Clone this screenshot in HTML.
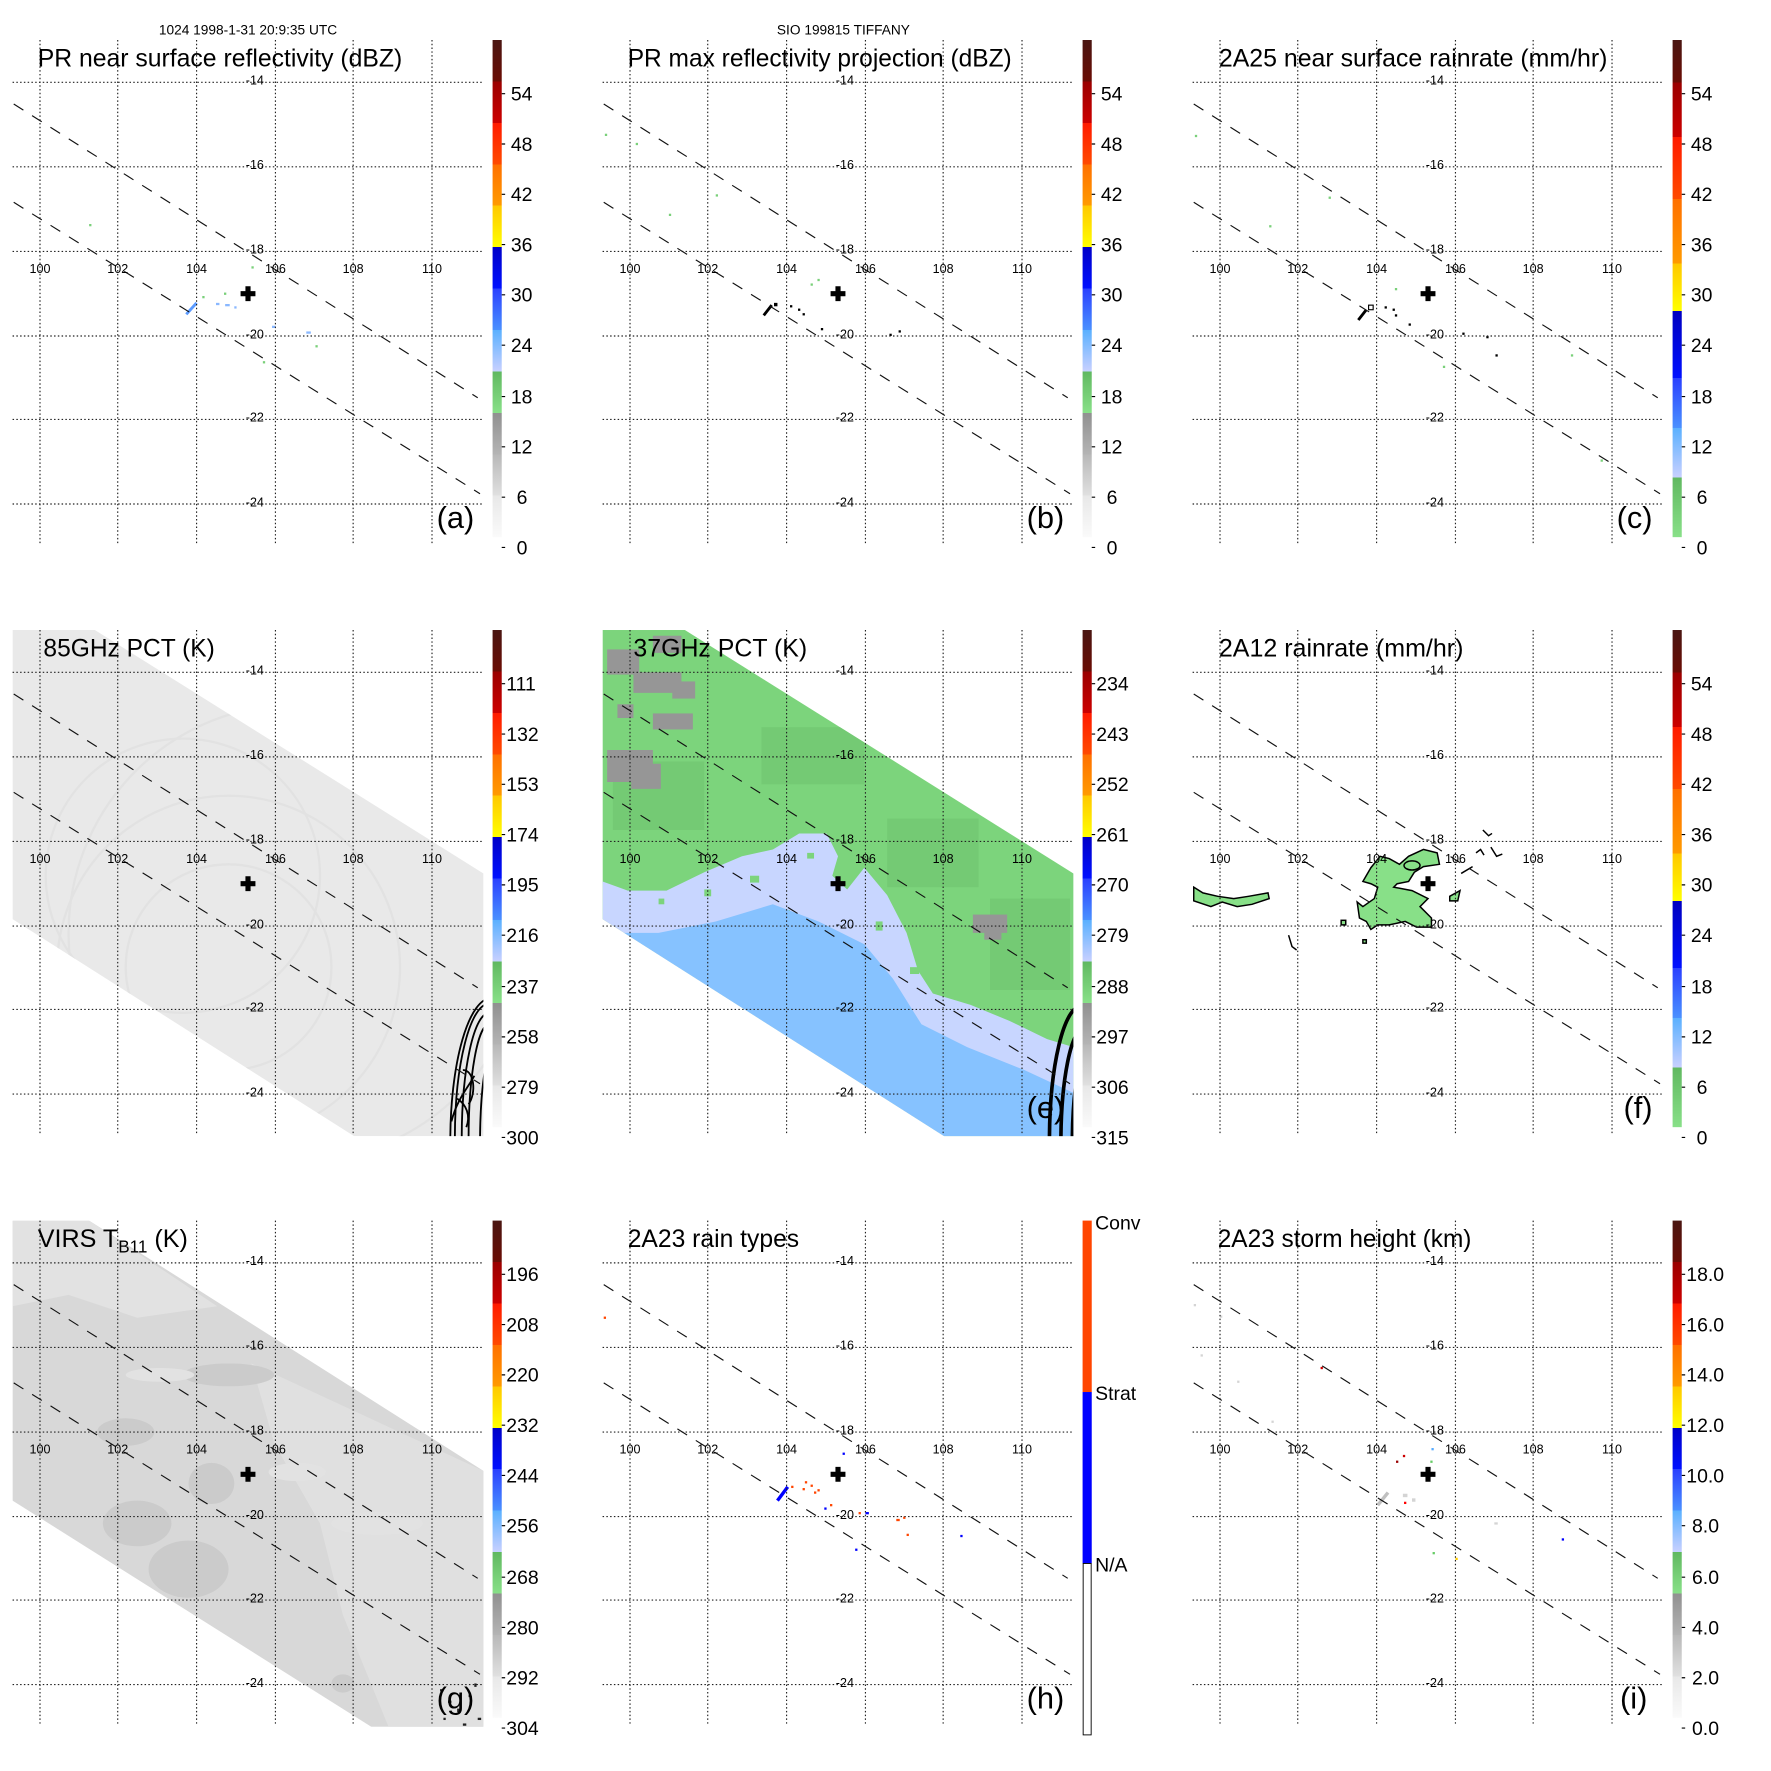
<!DOCTYPE html>
<html><head><meta charset="utf-8"><style>html,body{margin:0;padding:0;background:#fff}svg{display:block}text{font-family:"Liberation Sans",Arial,sans-serif;fill:#000}</style></head><body>
<svg width="1771" height="1771" viewBox="0 0 1549.6 1549.6" xmlns="http://www.w3.org/2000/svg">
<defs>
<linearGradient id="std" x1="0" y1="0" x2="0" y2="1">
<stop offset="0" stop-color="#4a1612"/><stop offset="0.0833" stop-color="#6a0c04"/>
<stop offset="0.0833" stop-color="#9a0000"/><stop offset="0.1667" stop-color="#cc0000"/>
<stop offset="0.1667" stop-color="#ff1a00"/><stop offset="0.25" stop-color="#ff4a00"/>
<stop offset="0.25" stop-color="#ff7000"/><stop offset="0.3333" stop-color="#ff9a00"/>
<stop offset="0.3333" stop-color="#ffc800"/><stop offset="0.4167" stop-color="#ffff00"/>
<stop offset="0.4167" stop-color="#0000c8"/><stop offset="0.5" stop-color="#0010ff"/>
<stop offset="0.5" stop-color="#2a40ff"/><stop offset="0.5833" stop-color="#4a90ff"/>
<stop offset="0.5833" stop-color="#5ab0ff"/><stop offset="0.6667" stop-color="#c8d0ff"/>
<stop offset="0.6667" stop-color="#60b860"/><stop offset="0.75" stop-color="#88e088"/>
<stop offset="0.75" stop-color="#909090"/><stop offset="0.8333" stop-color="#b4b4b4"/>
<stop offset="0.8333" stop-color="#b8b8b8"/><stop offset="0.9167" stop-color="#e0e0e0"/>
<stop offset="0.9167" stop-color="#e8e8e8"/><stop offset="1" stop-color="#fafafa"/>
</linearGradient>
<linearGradient id="rain" x1="0" y1="0" x2="0" y2="1">
<stop offset="0" stop-color="#4a1612"/><stop offset="0.085" stop-color="#6a0c04"/>
<stop offset="0.085" stop-color="#9a0000"/><stop offset="0.195" stop-color="#cc0000"/>
<stop offset="0.195" stop-color="#ff1a00"/><stop offset="0.32" stop-color="#ff4a00"/>
<stop offset="0.32" stop-color="#ff7000"/><stop offset="0.45" stop-color="#ff9a00"/>
<stop offset="0.45" stop-color="#ffc800"/><stop offset="0.545" stop-color="#ffff00"/>
<stop offset="0.545" stop-color="#0000c0"/><stop offset="0.68" stop-color="#0010ff"/>
<stop offset="0.68" stop-color="#2a40ff"/><stop offset="0.78" stop-color="#4a90ff"/>
<stop offset="0.78" stop-color="#5ab0ff"/><stop offset="0.88" stop-color="#c8d0ff"/>
<stop offset="0.88" stop-color="#60b860"/><stop offset="1" stop-color="#88e088"/>
</linearGradient>
<clipPath id="plot"><rect x="11" y="35" width="412" height="443"/></clipPath>
<clipPath id="swath"><polygon points="11,35 83,35 423,248 423,478 310,478 11,288"/></clipPath>
<clipPath id="swathg"><polygon points="11,35 78,35 423,254 423,478 325,478 11,280"/></clipPath>
<g id="grid" fill="none">
<g stroke="#222" stroke-width="1" stroke-dasharray="1.3,2">
<path d="M11 72H423M11 146H423M11 220H423M11 294H423M11 367H423M11 441H423"/>
<path d="M35 35V477M103 35V477M172 35V477M241 35V477M309 35V477M378 35V477"/>
</g>
<path d="M12 91L418 348M12 177L420 432" stroke="#111" stroke-width="1" stroke-dasharray="10,9"/>
<path d="M217 250.5v13M210.5 257h13" stroke="#000" stroke-width="4.5"/>
</g>
<g id="cbt" stroke="#000" stroke-width="1">
<path d="M439 82h3M439 126h3M439 170h3M439 214h3M439 258h3M439 302h3M439 347h3M439 391h3M439 435h3M439 479h3"/>
</g>
</defs>

<text x="217" y="30" font-size="12" text-anchor="middle">1024 1998-1-31 20:9:35 UTC</text>
<text x="738" y="30" font-size="12" text-anchor="middle">SIO 199815 TIFFANY</text>

<!-- Panel a -->
<g transform="translate(0,0)">
<g clip-path="url(#plot)">
<path d="M163 275L172 265" stroke="#5a9aff" stroke-width="2.5"/>
<g fill="#8ab8ff"><rect x="189" y="265" width="3" height="2"/><rect x="197" y="266" width="4" height="2"/><rect x="205" y="268" width="2" height="2"/><rect x="268" y="290" width="4" height="2"/><rect x="238" y="285" width="3" height="2"/></g>
<g fill="#7ad07a"><rect x="78" y="196" width="2" height="2"/><rect x="220" y="233" width="2" height="2"/><rect x="177" y="259" width="2" height="2"/><rect x="196" y="256" width="2" height="2"/><rect x="276" y="302" width="2" height="2"/><rect x="230" y="316" width="2" height="2"/></g>
</g>
<use href="#grid"/>
<g font-size="11" text-anchor="middle"><text x="223" y="74">-14</text><text x="223" y="148">-16</text><text x="223" y="222">-18</text><text x="223" y="296">-20</text><text x="223" y="369">-22</text><text x="223" y="443">-24</text><text x="35" y="239">100</text><text x="103" y="239">102</text><text x="172" y="239">104</text><text x="241" y="239">106</text><text x="309" y="239">108</text><text x="378" y="239">110</text></g>
<text x="33" y="58" font-size="22" textLength="319" lengthAdjust="spacingAndGlyphs">PR near surface reflectivity (dBZ)</text>
<text x="382" y="462" font-size="27">(a)</text>
<rect x="431" y="35" width="8" height="435" fill="url(#std)"/><use href="#cbt"/>
<g font-size="17"><text x="447" y="88">54</text><text x="447" y="132">48</text><text x="447" y="176">42</text><text x="447" y="220">36</text><text x="447" y="264">30</text><text x="447" y="308">24</text><text x="447" y="353">18</text><text x="447" y="397">12</text><text x="452" y="441">6</text><text x="452" y="485">0</text></g>
</g>

<!-- Panel b -->
<g transform="translate(516.25,0)">
<g clip-path="url(#plot)">
<path d="M152 276L159 267" stroke="#000" stroke-width="2.5"/>
<g fill="#000"><rect x="175" y="267" width="2" height="2"/><rect x="182" y="270" width="2" height="2"/><rect x="186" y="274" width="2" height="2"/><rect x="161" y="265" width="3" height="3"/><rect x="202" y="287" width="2" height="2"/><rect x="262" y="292" width="2" height="2"/><rect x="270" y="289" width="2" height="2"/></g>
<g fill="#7ad07a"><rect x="13" y="117" width="2" height="2"/><rect x="40" y="125" width="2" height="2"/><rect x="69" y="187" width="2" height="2"/><rect x="110" y="170" width="2" height="2"/><rect x="193" y="248" width="2" height="2"/><rect x="199" y="244" width="2" height="2"/></g>
</g>
<use href="#grid"/>
<g font-size="11" text-anchor="middle"><text x="223" y="74">-14</text><text x="223" y="148">-16</text><text x="223" y="222">-18</text><text x="223" y="296">-20</text><text x="223" y="369">-22</text><text x="223" y="443">-24</text><text x="35" y="239">100</text><text x="103" y="239">102</text><text x="172" y="239">104</text><text x="241" y="239">106</text><text x="309" y="239">108</text><text x="378" y="239">110</text></g>
<text x="33" y="58" font-size="22" textLength="336" lengthAdjust="spacingAndGlyphs">PR max reflectivity projection (dBZ)</text>
<text x="382" y="462" font-size="27">(b)</text>
<rect x="431" y="35" width="8" height="435" fill="url(#std)"/><use href="#cbt"/>
<g font-size="17"><text x="447" y="88">54</text><text x="447" y="132">48</text><text x="447" y="176">42</text><text x="447" y="220">36</text><text x="447" y="264">30</text><text x="447" y="308">24</text><text x="447" y="353">18</text><text x="447" y="397">12</text><text x="452" y="441">6</text><text x="452" y="485">0</text></g>
</g>

<!-- Panel c -->
<g transform="translate(1032.5,0)">
<g clip-path="url(#plot)">
<path d="M156 280L163 271" stroke="#000" stroke-width="2.5"/>
<rect x="165" y="267" width="4" height="4" fill="none" stroke="#000" stroke-width="1"/>
<g fill="#000"><rect x="179" y="268" width="2" height="2"/><rect x="186" y="270" width="2" height="2"/><rect x="188" y="275" width="2" height="2"/><rect x="200" y="283" width="2" height="2"/><rect x="247" y="291" width="2" height="2"/><rect x="268" y="294" width="2" height="2"/><rect x="276" y="310" width="2" height="2"/></g>
<g fill="#7ad07a"><rect x="13" y="118" width="2" height="2"/><rect x="78" y="197" width="2" height="2"/><rect x="130" y="172" width="2" height="2"/><rect x="188" y="252" width="2" height="2"/><rect x="230" y="320" width="2" height="2"/><rect x="342" y="310" width="2" height="2"/><rect x="368" y="402" width="2" height="2"/></g>
</g>
<use href="#grid"/>
<g font-size="11" text-anchor="middle"><text x="223" y="74">-14</text><text x="223" y="148">-16</text><text x="223" y="222">-18</text><text x="223" y="296">-20</text><text x="223" y="369">-22</text><text x="223" y="443">-24</text><text x="35" y="239">100</text><text x="103" y="239">102</text><text x="172" y="239">104</text><text x="241" y="239">106</text><text x="309" y="239">108</text><text x="378" y="239">110</text></g>
<text x="34" y="58" font-size="22" textLength="340" lengthAdjust="spacingAndGlyphs">2A25 near surface rainrate (mm/hr)</text>
<text x="382" y="462" font-size="27">(c)</text>
<rect x="431" y="35" width="8" height="435" fill="url(#rain)"/><use href="#cbt"/>
<g font-size="17"><text x="447" y="88">54</text><text x="447" y="132">48</text><text x="447" y="176">42</text><text x="447" y="220">36</text><text x="447" y="264">30</text><text x="447" y="308">24</text><text x="447" y="353">18</text><text x="447" y="397">12</text><text x="452" y="441">6</text><text x="452" y="485">0</text></g>
</g>

<!-- Panel d -->
<g transform="translate(0,516.25)">
<g clip-path="url(#swath)">
<rect x="11" y="35" width="412" height="443" fill="#e9e9e9"/>
<g fill="none" stroke="#e2e2e2" stroke-width="2"><circle cx="200" cy="330" r="90"/><circle cx="200" cy="330" r="150"/><circle cx="260" cy="300" r="200"/><circle cx="160" cy="250" r="120"/></g>
<g fill="none" stroke="#000" stroke-width="1.6">
<ellipse cx="428" cy="480" rx="18" ry="100"/><ellipse cx="428" cy="480" rx="24" ry="110"/><ellipse cx="428" cy="480" rx="30" ry="118"/><ellipse cx="430" cy="482" rx="36" ry="125"/><ellipse cx="432" cy="485" rx="12" ry="85"/>
<path d="M395 465c5-20 15-30 20-40M400 445c8 5 12 15 8 25M405 420c10 0 12 20 5 30"/>
</g>
</g>
<use href="#grid"/>
<g font-size="11" text-anchor="middle"><text x="223" y="74">-14</text><text x="223" y="148">-16</text><text x="223" y="222">-18</text><text x="223" y="296">-20</text><text x="223" y="369">-22</text><text x="223" y="443">-24</text><text x="35" y="239">100</text><text x="103" y="239">102</text><text x="172" y="239">104</text><text x="241" y="239">106</text><text x="309" y="239">108</text><text x="378" y="239">110</text></g>
<text x="38" y="58" font-size="22" textLength="150" lengthAdjust="spacingAndGlyphs">85GHz PCT (K)</text>
<rect x="431" y="35" width="8" height="435" fill="url(#std)"/><use href="#cbt"/>
<g font-size="17"><text x="443" y="88">111</text><text x="443" y="132">132</text><text x="443" y="176">153</text><text x="443" y="220">174</text><text x="443" y="264">195</text><text x="443" y="308">216</text><text x="443" y="353">237</text><text x="443" y="397">258</text><text x="443" y="441">279</text><text x="443" y="485">300</text></g>
</g>

<!-- Panel e -->
<g transform="translate(516.25,516.25)">
<g clip-path="url(#swath)">
<rect x="11" y="35" width="412" height="443" fill="#7cd47c"/>
<g fill="#74ca74"><rect x="20" y="150" width="80" height="60"/><rect x="150" y="120" width="90" height="50"/><rect x="260" y="200" width="80" height="60"/><rect x="350" y="270" width="70" height="80"/></g>
<g fill="#969696"><rect x="15" y="52" width="28" height="22"/><rect x="38" y="72" width="42" height="18"/><rect x="55" y="40" width="25" height="15"/><rect x="15" y="140" width="40" height="28"/><rect x="36" y="152" width="26" height="22"/><rect x="55" y="108" width="35" height="14"/><rect x="72" y="80" width="20" height="15"/><rect x="24" y="100" width="14" height="12"/><rect x="335" y="284" width="30" height="16"/><rect x="345" y="292" width="15" height="14"/></g>
<polygon points="11,255 33,263 67,263 100,247 133,233 160,227 183,213 207,213 217,233 212,250 225,262 240,243 260,267 277,300 287,333 300,353 333,363 367,377 400,393 423,400 423,478 11,478" fill="#c8d6ff"/>
<g fill="#7cd47c"><rect x="100" y="262" width="6" height="6"/><rect x="140" y="250" width="8" height="6"/><rect x="190" y="230" width="6" height="5"/><rect x="250" y="290" width="6" height="8"/><rect x="280" y="330" width="8" height="6"/><rect x="60" y="270" width="5" height="5"/><rect x="170" y="280" width="5" height="5"/></g>
<polygon points="11,300 60,300 110,290 160,275 200,290 240,310 265,340 290,380 330,400 380,420 423,440 423,478 11,478" fill="#86c2ff"/>
<g fill="none" stroke="#000" stroke-width="3.2"><ellipse cx="430" cy="482" rx="28" ry="118"/><ellipse cx="432" cy="484" rx="20" ry="100"/><ellipse cx="434" cy="486" rx="12" ry="80"/></g>
</g>
<use href="#grid"/>
<g font-size="11" text-anchor="middle"><text x="223" y="74">-14</text><text x="223" y="148">-16</text><text x="223" y="222">-18</text><text x="223" y="296">-20</text><text x="223" y="369">-22</text><text x="223" y="443">-24</text><text x="35" y="239">100</text><text x="103" y="239">102</text><text x="172" y="239">104</text><text x="241" y="239">106</text><text x="309" y="239">108</text><text x="378" y="239">110</text></g>
<text x="38" y="58" font-size="22" textLength="152" lengthAdjust="spacingAndGlyphs">37GHz PCT (K)</text>
<text x="382" y="462" font-size="27">(e)</text>
<rect x="431" y="35" width="8" height="435" fill="url(#std)"/><use href="#cbt"/>
<g font-size="17"><text x="443" y="88">234</text><text x="443" y="132">243</text><text x="443" y="176">252</text><text x="443" y="220">261</text><text x="443" y="264">270</text><text x="443" y="308">279</text><text x="443" y="353">288</text><text x="443" y="397">297</text><text x="443" y="441">306</text><text x="443" y="485">315</text></g>
</g>

<!-- Panel f -->
<g transform="translate(1032.5,516.25)">
<g clip-path="url(#plot)" stroke="#000" stroke-width="1.3" fill="#88e088">
<polygon points="160,255 167,243 175,233 183,235 192,240 200,233 213,227 225,230 227,240 213,242 205,247 200,255 190,257 187,260 203,263 217,270 210,277 220,287 220,295 207,295 197,290 183,293 173,293 167,297 163,290 157,287 155,273 160,277 170,270 173,260 167,257"/>
<ellipse cx="203" cy="241" rx="7" ry="4" fill="#88e088"/>
<polygon points="12,260 20,265 33,268 47,270 60,268 77,265 78,270 63,275 50,277 37,273 27,277 12,272"/>
<polygon points="236,268 245,263 243,272 236,272"/>
<path d="M246 248L256 242M259 230l4-3 3 5M265 210l5 5 3-2M272 225l5 8 5-2" fill="none"/>
<rect x="141" y="289" width="4" height="4"/><rect x="160" y="306" width="3" height="3"/>
<path d="M95 302l3 10 4 3" fill="none"/>
</g>
<use href="#grid"/>
<g font-size="11" text-anchor="middle"><text x="223" y="74">-14</text><text x="223" y="148">-16</text><text x="223" y="222">-18</text><text x="223" y="296">-20</text><text x="223" y="369">-22</text><text x="223" y="443">-24</text><text x="35" y="239">100</text><text x="103" y="239">102</text><text x="172" y="239">104</text><text x="241" y="239">106</text><text x="309" y="239">108</text><text x="378" y="239">110</text></g>
<text x="34" y="58" font-size="22" textLength="214" lengthAdjust="spacingAndGlyphs">2A12 rainrate (mm/hr)</text>
<text x="388" y="462" font-size="27">(f)</text>
<rect x="431" y="35" width="8" height="435" fill="url(#rain)"/><use href="#cbt"/>
<g font-size="17"><text x="447" y="88">54</text><text x="447" y="132">48</text><text x="447" y="176">42</text><text x="447" y="220">36</text><text x="447" y="264">30</text><text x="447" y="308">24</text><text x="447" y="353">18</text><text x="447" y="397">12</text><text x="452" y="441">6</text><text x="452" y="485">0</text></g>
</g>

<!-- Panel g -->
<g transform="translate(0,1033)">
<g clip-path="url(#swathg)">
<rect x="11" y="35" width="412" height="443" fill="#d8d8d8"/>
<polygon points="11,35 78,35 190,110 120,120 60,100 11,110" fill="#e2e2e2"/>
<polygon points="220,160 423,254 423,478 340,478 300,380 280,300 240,230" fill="#e0e0e0"/>
<g fill="#cbcbcb"><ellipse cx="185" cy="265" rx="20" ry="18"/><ellipse cx="165" cy="340" rx="35" ry="25"/><ellipse cx="120" cy="300" rx="30" ry="20"/><ellipse cx="200" cy="170" rx="40" ry="10"/><ellipse cx="300" cy="440" rx="10" ry="8"/><ellipse cx="110" cy="220" rx="25" ry="12"/></g>
<g fill="#e2e2e2"><ellipse cx="140" cy="170" rx="30" ry="6"/><ellipse cx="260" cy="255" rx="25" ry="8"/><ellipse cx="330" cy="300" rx="40" ry="10"/></g>
<g fill="#222"><rect x="385" y="445" width="2" height="2"/><rect x="392" y="455" width="3" height="2"/><rect x="400" y="462" width="2" height="3"/><rect x="410" y="450" width="2" height="2"/><rect x="418" y="470" width="3" height="2"/><rect x="388" y="470" width="2" height="2"/><rect x="405" y="475" width="3" height="2"/><rect x="415" y="440" width="2" height="3"/></g>
</g>
<use href="#grid"/>
<g font-size="11" text-anchor="middle"><text x="223" y="74">-14</text><text x="223" y="148">-16</text><text x="223" y="222">-18</text><text x="223" y="296">-20</text><text x="223" y="369">-22</text><text x="223" y="443">-24</text><text x="35" y="239">100</text><text x="103" y="239">102</text><text x="172" y="239">104</text><text x="241" y="239">106</text><text x="309" y="239">108</text><text x="378" y="239">110</text></g>
<text x="33" y="58" font-size="22">VIRS T<tspan font-size="15" dy="5">B11</tspan><tspan dy="-5"> (K)</tspan></text>
<text x="382" y="462" font-size="27">(g)</text>
<rect x="431" y="35" width="8" height="435" fill="url(#std)"/><use href="#cbt"/>
<g font-size="17"><text x="443" y="88">196</text><text x="443" y="132">208</text><text x="443" y="176">220</text><text x="443" y="220">232</text><text x="443" y="264">244</text><text x="443" y="308">256</text><text x="443" y="353">268</text><text x="443" y="397">280</text><text x="443" y="441">292</text><text x="443" y="485">304</text></g>
</g>

<!-- Panel h -->
<g transform="translate(516.25,1033)">
<g clip-path="url(#plot)">
<path d="M164 280L173 268" stroke="#0000ff" stroke-width="3"/>
<g fill="#ff4500"><rect x="12" y="119" width="2" height="2"/><rect x="176" y="267" width="2" height="2"/><rect x="188" y="263" width="2" height="2"/><rect x="193" y="266" width="2" height="2"/><rect x="196" y="272" width="2" height="2"/><rect x="199" y="270" width="2" height="2"/><rect x="186" y="269" width="2" height="2"/><rect x="210" y="283" width="2" height="2"/><rect x="235" y="290" width="2" height="2"/><rect x="268" y="296" width="3" height="2"/><rect x="274" y="294" width="2" height="2"/><rect x="277" y="309" width="2" height="2"/><rect x="212" y="255" width="2" height="2"/></g>
<g fill="#0000ff"><rect x="205" y="286" width="2" height="2"/><rect x="241" y="290" width="3" height="2"/><rect x="221" y="238" width="2" height="2"/><rect x="232" y="322" width="2" height="2"/><rect x="324" y="310" width="2" height="2"/></g>
</g>
<use href="#grid"/>
<g font-size="11" text-anchor="middle"><text x="223" y="74">-14</text><text x="223" y="148">-16</text><text x="223" y="222">-18</text><text x="223" y="296">-20</text><text x="223" y="369">-22</text><text x="223" y="443">-24</text><text x="35" y="239">100</text><text x="103" y="239">102</text><text x="172" y="239">104</text><text x="241" y="239">106</text><text x="309" y="239">108</text><text x="378" y="239">110</text></g>
<text x="33" y="58" font-size="22" textLength="150" lengthAdjust="spacingAndGlyphs">2A23 rain types</text>
<text x="382" y="462" font-size="27">(h)</text>
<rect x="431" y="35" width="8" height="150" fill="#ff4500"/>
<rect x="431" y="185" width="8" height="150" fill="#0000ff"/>
<rect x="431.5" y="335" width="7" height="150" fill="#fff" stroke="#000" stroke-width="0.8"/>
<g font-size="17"><text x="442" y="43">Conv</text><text x="442" y="192">Strat</text><text x="442" y="342">N/A</text></g>
</g>

<!-- Panel i -->
<g transform="translate(1032.5,1033)">
<g clip-path="url(#plot)">
<path d="M173 284L182 273" stroke="#c0c0c0" stroke-width="3"/>
<g fill="#d4d4d4"><rect x="12" y="108" width="2" height="2"/><rect x="35" y="118" width="2" height="2"/><rect x="18" y="152" width="2" height="2"/><rect x="50" y="175" width="2" height="2"/><rect x="80" y="210" width="2" height="2"/><rect x="195" y="274" width="4" height="3"/><rect x="203" y="278" width="3" height="3"/><rect x="275" y="299" width="3" height="2"/></g>
<g><rect x="123" y="163" width="2" height="2" fill="#c00"/><rect x="195" y="240" width="2" height="2" fill="#c00"/><rect x="189" y="245" width="2" height="2" fill="#900"/><rect x="196" y="281" width="2" height="2" fill="#f00"/><rect x="219" y="245" width="2" height="2" fill="#6c6"/><rect x="221" y="325" width="2" height="2" fill="#6c6"/><rect x="241" y="330" width="2" height="2" fill="#fc0"/><rect x="334" y="313" width="2" height="2" fill="#00f"/><rect x="220" y="234" width="2" height="2" fill="#5af"/></g>
</g>
<use href="#grid"/>
<g font-size="11" text-anchor="middle"><text x="223" y="74">-14</text><text x="223" y="148">-16</text><text x="223" y="222">-18</text><text x="223" y="296">-20</text><text x="223" y="369">-22</text><text x="223" y="443">-24</text><text x="35" y="239">100</text><text x="103" y="239">102</text><text x="172" y="239">104</text><text x="241" y="239">106</text><text x="309" y="239">108</text><text x="378" y="239">110</text></g>
<text x="33" y="58" font-size="22" textLength="222" lengthAdjust="spacingAndGlyphs">2A23 storm height (km)</text>
<text x="385" y="462" font-size="27">(i)</text>
<rect x="431" y="35" width="8" height="435" fill="url(#std)"/><use href="#cbt"/>
<g font-size="17"><text x="443" y="88">18.0</text><text x="443" y="132">16.0</text><text x="443" y="176">14.0</text><text x="443" y="220">12.0</text><text x="443" y="264">10.0</text><text x="448" y="308">8.0</text><text x="448" y="353">6.0</text><text x="448" y="397">4.0</text><text x="448" y="441">2.0</text><text x="448" y="485">0.0</text></g>
</g>
</svg>
</body></html>
